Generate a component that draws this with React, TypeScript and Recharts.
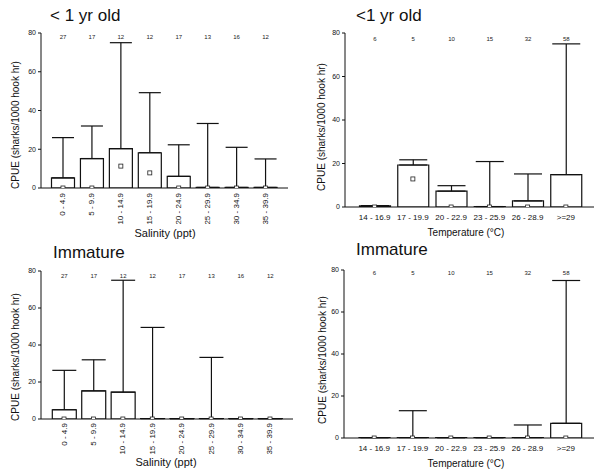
import React from 'react';
import { ComposedChart, Bar, XAxis, YAxis, ErrorBar, Scatter, LabelList } from 'recharts';

const FONT = '"Liberation Sans", Arial, sans-serif';

// Categories and tick labels
const salinityCats = ['0 - 4.9', '5 - 9.9', '10 - 14.9', '15 - 19.9', '20 - 24.9', '25 - 29.9', '30 - 34.9', '35 - 39.9'];
const salinityN = [27, 17, 12, 12, 17, 13, 16, 12];
const tempCats = ['14 - 16.9', '17 - 19.9', '20 - 22.9', '23 - 25.9', '26 - 28.9', '>=29'];
const tempN = [6, 5, 10, 15, 32, 58];
const yTicks = [0, 20, 40, 60, 80];

// < 1 yr old, salinity
const yoySalMean = [5.2, 15.2, 20.3, 18.2, 6.0, 0.3, 0.3, 0.3];
const yoySalUpper = [26, 32, 75, 49.2, 22.3, 33.3, 21, 15];
const yoySalMedian = [0, 0, 11.3, 7.8, 0, 0, 0, 0];

// < 1 yr old, temperature
const yoyTempMean = [0.5, 19.3, 7.3, 0.2, 2.8, 14.9];
const yoyTempUpper = [0.6, 21.7, 9.8, 20.9, 15.2, 75];
const yoyTempMedian = [0, 12.9, 0, 0, 0, 0];

// Immature, salinity
const immSalMean = [5.0, 15.2, 14.5, 0.2, 0.2, 0.2, 0.2, 0.2];
const immSalUpper = [26.3, 32, 75, 49.5, 0, 33.3, 0, 0];
const immSalMedian = [0, 0, 0, 0, 0, 0, 0, 0];

// Immature, temperature
const immTempMean = [0.2, 0.2, 0.2, 0.2, 0.2, 7.0];
const immTempUpper = [0, 13, 0, 0, 6.2, 75];
const immTempMedian = [0, 0, 0, 0, 0, 0];

type PanelProps = {
  left: number; top: number; width: number; height: number;
  cats: string[]; n: number[]; mean: number[]; upper: number[]; median: number[];
  marginTop: number; marginRight: number; yAxisWidth: number; xAxisHeight: number;
  padL: number; padR: number; barSize: number; capHalf: number;
  rotated: boolean; tickDy: number; countDy: number;
};

function Panel(p: PanelProps) {
  const data = p.cats.map((c, i) => ({
    cat: c,
    n: p.n[i],
    mean: p.mean[i],
    err: [0, Math.max(0, p.upper[i] - p.mean[i])],
    median: p.median[i],
  }));

  const renderTick = (props: any) => {
    const { x, y, payload } = props;
    if (p.rotated) {
      const ty = y + p.tickDy;
      return (
        <text x={x} y={ty} transform={`rotate(-90 ${x} ${ty})`} textAnchor="end" dominantBaseline="central"
          fontSize={8} fontFamily={FONT} fill="#111">{payload.value}</text>
      );
    }
    return (
      <text x={x} y={y + p.tickDy} textAnchor="middle" dominantBaseline="central"
        fontSize={8} fontFamily={FONT} fill="#111">{payload.value}</text>
    );
  };

  const renderCount = (props: any) => {
    const { x, width, value } = props;
    return (
      <text x={x + width / 2} y={p.marginTop + p.countDy} textAnchor="middle" dominantBaseline="central"
        fontSize={6} fontFamily={FONT} fill="#222">{value}</text>
    );
  };

  const renderMedian = (props: any) => {
    const { cx, cy } = props;
    return <rect x={cx - 2} y={cy - 2} width={4} height={4} fill="#fff" stroke="#222" strokeWidth={0.8} />;
  };

  return (
    <div style={{ position: 'absolute', left: p.left, top: p.top }}>
      <ComposedChart width={p.width} height={p.height} data={data}
        margin={{ top: p.marginTop, right: p.marginRight, left: 0, bottom: 0 }}>
        <XAxis dataKey="cat" type="category" interval={0} padding={{ left: p.padL, right: p.padR }}
          height={p.xAxisHeight} tickLine={false} tickSize={0} tickMargin={0} tick={renderTick}
          axisLine={{ stroke: '#111', strokeWidth: 1 }} />
        <YAxis type="number" domain={[0, 80]} ticks={yTicks} width={p.yAxisWidth} tickSize={3} tickMargin={2}
          tick={{ fontSize: 7, fill: '#111', fontFamily: FONT }} axisLine={{ stroke: '#111', strokeWidth: 1 }}
          tickLine={{ stroke: '#111' }} allowDataOverflow />
        <Bar dataKey="mean" fill="#fff" stroke="#111" strokeWidth={1.2} barSize={p.barSize} isAnimationActive={false}>
          <ErrorBar dataKey="err" direction="y" width={p.capHalf} stroke="#111" strokeWidth={1.2} isAnimationActive={false} />
          <LabelList dataKey="n" content={renderCount} />
        </Bar>
        <Scatter dataKey="median" shape={renderMedian} isAnimationActive={false} />
      </ComposedChart>
    </div>
  );
}

export default function App() {
  const yLabel = 'CPUE (sharks/1000 hook hr)';
  return (
    <div style={{ position: 'absolute', left: 0, top: 0, width: 594, height: 472, background: '#fff', overflow: 'hidden' }}>
      <Panel left={0} top={0} width={297} height={236} cats={salinityCats} n={salinityN}
        mean={yoySalMean} upper={yoySalUpper} median={yoySalMedian}
        marginTop={33} marginRight={9} yAxisWidth={41} xAxisHeight={48}
        padL={7.5} padR={8} barSize={23} capHalf={11} rotated={true} tickDy={5} countDy={4} />
      <Panel left={297} top={0} width={297} height={236} cats={tempCats} n={tempN}
        mean={yoyTempMean} upper={yoyTempUpper} median={yoyTempMedian}
        marginTop={33} marginRight={0} yAxisWidth={48} xAxisHeight={29}
        padL={10.5} padR={9} barSize={31} capHalf={14} rotated={false} tickDy={10} countDy={6} />
      <Panel left={0} top={236} width={297} height={236} cats={salinityCats} n={salinityN}
        mean={immSalMean} upper={immSalUpper} median={immSalMedian}
        marginTop={35} marginRight={4} yAxisWidth={41} xAxisHeight={53}
        padL={8.3} padR={8.3} barSize={24} capHalf={12} rotated={true} tickDy={4} countDy={5} />
      <Panel left={297} top={236} width={297} height={236} cats={tempCats} n={tempN}
        mean={immTempMean} upper={immTempUpper} median={immTempMedian}
        marginTop={34} marginRight={0} yAxisWidth={47} xAxisHeight={34}
        padL={11} padR={9} barSize={31} capHalf={14} rotated={false} tickDy={10} countDy={3} />

      <svg width={594} height={472} style={{ position: 'absolute', left: 0, top: 0, pointerEvents: 'none' }}>
        <g fontFamily={FONT} fill="#111">
          <text x={50} y={21} fontSize={17}>{'< 1 yr old'}</text>
          <text x={356} y={21} fontSize={17}>{'<1 yr old'}</text>
          <text x={53} y={258} fontSize={17}>Immature</text>
          <text x={356} y={255} fontSize={17}>Immature</text>

          <text x={165} y={237} fontSize={11} textAnchor="middle">Salinity (ppt)</text>
          <text x={466} y={236} fontSize={10} textAnchor="middle">Temperature (°C)</text>
          <text x={166} y={466} fontSize={11} textAnchor="middle">Salinity (ppt)</text>
          <text x={466} y={467} fontSize={10} textAnchor="middle">Temperature (°C)</text>

          <text x={15} y={125} fontSize={10} textAnchor="middle" dominantBaseline="central" transform="rotate(-90 15 125)">{yLabel}</text>
          <text x={321} y={127} fontSize={10} textAnchor="middle" dominantBaseline="central" transform="rotate(-90 321 127)">{yLabel}</text>
          <text x={15} y={357} fontSize={10} textAnchor="middle" dominantBaseline="central" transform="rotate(-90 15 357)">{yLabel}</text>
          <text x={322} y={360} fontSize={10} textAnchor="middle" dominantBaseline="central" transform="rotate(-90 322 360)">{yLabel}</text>
        </g>
      </svg>
    </div>
  );
}
